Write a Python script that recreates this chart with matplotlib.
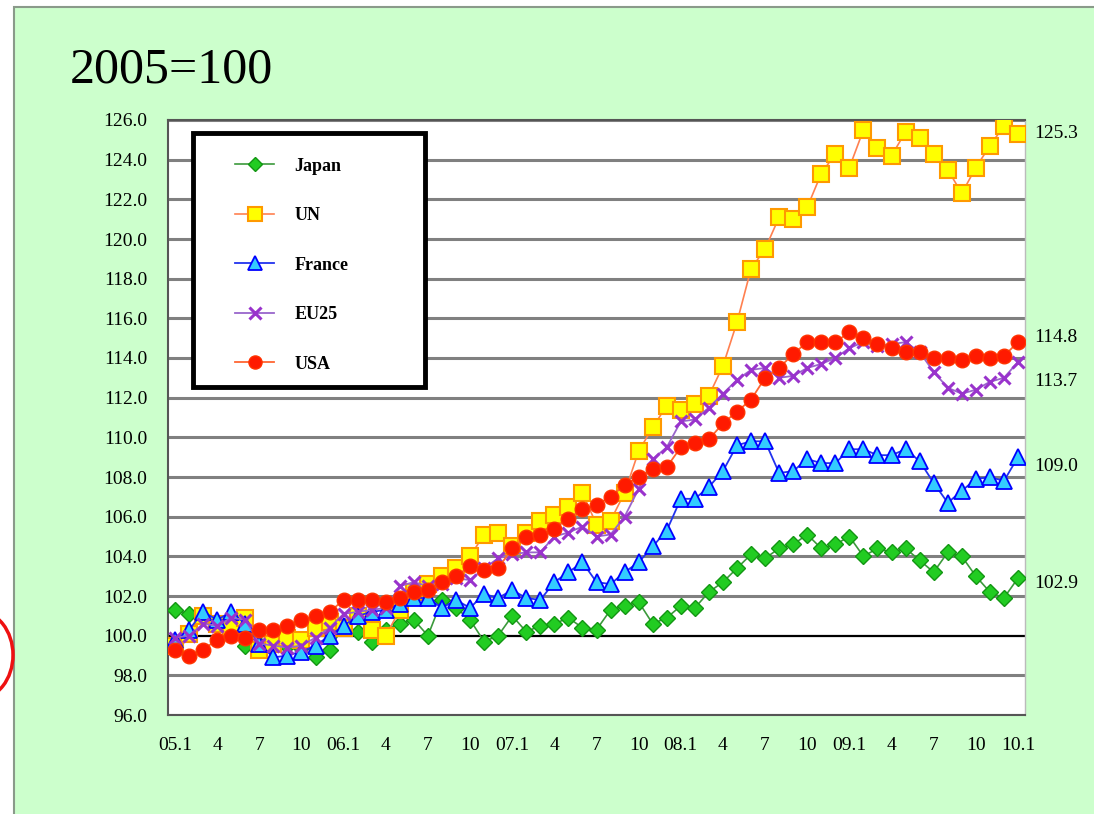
import numpy as np
import matplotlib
matplotlib.use("Agg")
import matplotlib.pyplot as plt
from matplotlib.patches import Rectangle, Ellipse

# =========================
# data (2005=100, monthly 2005.1 - 2010.1)
# =========================
months = list(range(61))
tick_pos = list(range(0, 61, 3))
tick_labels = ["05.1", "4", "7", "10", "06.1", "4", "7", "10", "07.1", "4", "7", "10",
               "08.1", "4", "7", "10", "09.1", "4", "7", "10", "10.1"]

japan = [101.3, 101.1, 100.9, 100.6, 100.8, 99.5, 99.6, 99.6, 99.5, 99.4,
         98.9, 99.3, 100.5, 100.2, 99.7, 100.3, 100.6, 100.8, 100.0, 101.8,
         101.4, 100.8, 99.7, 100.0, 101.0, 100.2, 100.5, 100.6, 100.9, 100.4,
         100.3, 101.3, 101.5, 101.7, 100.6, 100.9, 101.5, 101.4, 102.2, 102.7,
         103.4, 104.1, 103.9, 104.4, 104.6, 105.1, 104.4, 104.6, 105.0, 104.0,
         104.4, 104.2, 104.4, 103.8, 103.2, 104.2, 104.0, 103.0, 102.2, 101.9,
         102.9]
un = [99.5, 100.1, 101.0, 100.6, 100.4, 100.9, 99.3, 99.6, 99.9, 99.8,
      100.4, 100.7, 100.4, 101.0, 100.3, 100.0, 101.3, 102.2, 102.6, 103.0,
      103.4, 104.0, 105.1, 105.2, 104.5, 105.2, 105.8, 106.1, 106.5, 107.2,
      105.6, 105.8, 107.2, 109.3, 110.5, 111.6, 111.4, 111.7, 112.1, 113.6,
      115.8, 118.5, 119.5, 121.1, 121.0, 121.6, 123.3, 124.3, 123.6, 125.5,
      124.6, 124.2, 125.4, 125.1, 124.3, 123.5, 122.3, 123.6, 124.7, 125.7,
      125.3]
france = [99.8, 100.3, 101.2, 100.8, 101.2, 100.6, 99.6, 98.9, 99.0, 99.2,
          99.5, 100.0, 100.5, 101.0, 101.2, 101.3, 101.6, 101.9, 101.9, 101.4,
          101.8, 101.4, 102.1, 101.9, 102.3, 101.9, 101.8, 102.7, 103.2, 103.7,
          102.7, 102.6, 103.2, 103.7, 104.5, 105.3, 106.9, 106.9, 107.5, 108.3,
          109.6, 109.8, 109.8, 108.2, 108.3, 108.9, 108.7, 108.7, 109.4, 109.4,
          109.1, 109.1, 109.4, 108.8, 107.7, 106.7, 107.3, 107.9, 108.0, 107.8,
          109.0]
eu25 = [99.9, 100.0, 100.6, 100.5, 100.9, 100.8, 99.6, 99.5, 99.4, 99.5,
        99.9, 100.4, 101.1, 101.2, 101.3, 101.4, 102.5, 102.7, 102.5, 102.6,
        102.9, 102.8, 103.4, 103.9, 104.1, 104.2, 104.2, 105.0, 105.2, 105.5,
        105.0, 105.1, 106.0, 107.4, 108.9, 109.5, 110.8, 110.9, 111.5, 112.2,
        112.9, 113.4, 113.5, 113.0, 113.1, 113.5, 113.7, 114.0, 114.5, 114.8,
        114.6, 114.7, 114.8, 114.3, 113.3, 112.5, 112.2, 112.4, 112.8, 113.0,
        113.8]
usa = [99.3, 99.0, 99.3, 99.8, 100.0, 99.9, 100.3, 100.3, 100.5, 100.8,
       101.0, 101.2, 101.8, 101.8, 101.8, 101.7, 101.9, 102.2, 102.3, 102.7,
       103.0, 103.5, 103.3, 103.4, 104.4, 105.0, 105.1, 105.4, 105.9, 106.4,
       106.6, 107.0, 107.6, 108.0, 108.4, 108.5, 109.5, 109.7, 109.9, 110.7,
       111.3, 111.9, 113.0, 113.5, 114.2, 114.8, 114.8, 114.8, 115.3, 115.0,
       114.7, 114.5, 114.3, 114.3, 114.0, 114.0, 113.9, 114.1, 114.0, 114.1,
       114.8]

end_labels = ["125.3", "114.8", "113.7", "109.0", "102.9"]

plt.rcParams["font.family"] = ["Liberation Serif", "DejaVu Serif"]

# =========================
# figure
# =========================
fig = plt.figure(figsize=(10.94, 8.14), dpi=100, facecolor="white")
fig.patches.append(Rectangle((14 / 1094, -0.01), 1.0, (814 - 7) / 814 + 0.01,
                             transform=fig.transFigure, facecolor="#CCFFCC",
                             edgecolor="#8a9a8a", linewidth=1.5, zorder=-5))
# red circle fragment on the left edge
fig.patches.append(Ellipse((-22 / 1094, 1 - 655 / 814), 70 / 1094, 88 / 814,
                           transform=fig.transFigure, facecolor="none",
                           edgecolor="#ee1111", linewidth=2.5, zorder=-4))

ax = fig.add_axes([168 / 1094, 1 - 715 / 814, (1025 - 168) / 1094, (715 - 120) / 814])
ax.set_facecolor("white")

for v in np.arange(96, 126.1, 2):
    ax.axhline(v, color="black" if v == 100 else "#808080",
               linewidth=2.2 if v != 100 else 1.6, zorder=1)

ax.plot(months, japan, color="#3c9a3c", linewidth=1.2, marker="D", markersize=8,
        markerfacecolor="#22cc22", markeredgecolor="#139613", label="Japan", zorder=3)
ax.plot(months, un, color="#ff8050", linewidth=1.2, marker="s", markersize=11,
        markerfacecolor="#ffff00", markeredgecolor="#ff9900", markeredgewidth=1.5,
        label="UN", zorder=4)
ax.plot(months, france, color="#2233ee", linewidth=1.3, marker="^", markersize=11,
        markerfacecolor="#33ccff", markeredgecolor="#0000ff", markeredgewidth=1.3,
        label="France", zorder=5)
ax.plot(months, eu25, color="#9966cc", linewidth=1.3, marker="x", markersize=9,
        markeredgecolor="#9933cc", markeredgewidth=2.2, label="EU25", zorder=6)
ax.plot(months, usa, color="#ff6633", linewidth=1.3, marker="o", markersize=10.5,
        markerfacecolor="#ff1a00", markeredgecolor="#ff3300", label="USA", zorder=7)

# labels at the right end
ends = [un[-1], usa[-1], eu25[-1], france[-1], japan[-1]]
offs = [0, 3, -14, -7, -4]
for val, txt, dy in zip(ends, end_labels, offs):
    ax.annotate(txt, xy=(60, val), xytext=(12, dy), textcoords="offset points",
                ha="left", va="center", fontsize=14, annotation_clip=False)

ax.set_xlim(-0.5, 60.5)
ax.set_ylim(96, 126)
ax.set_yticks(np.arange(96, 126.1, 2))
ax.set_yticklabels([f"{v:.1f}" for v in np.arange(96, 126.1, 2)])
ax.set_xticks(tick_pos)
ax.set_xticklabels(tick_labels)
ax.tick_params(axis="both", length=0, labelsize=14)
ax.tick_params(axis="y", pad=15)
ax.tick_params(axis="x", pad=16)
for side in ["left", "bottom", "right", "top"]:
    ax.spines[side].set_color("#555555")
    ax.spines[side].set_linewidth(1.5)
ax.spines["right"].set_color("#bbbbbb")
ax.spines["right"].set_linewidth(1.0)

# legend box
ax.add_patch(Rectangle(((193 - 168) / 857, (715 - 387) / 595), 232 / 857, 254 / 595,
                       transform=ax.transAxes, facecolor="white", edgecolor="black",
                       linewidth=3.5, zorder=8))
leg = ax.legend(loc="upper left", bbox_to_anchor=((222 - 168) / 857, (715 - 145) / 595),
                frameon=False, prop={"weight": "bold", "size": 13},
                labelspacing=1.8, handlelength=2.2, handletextpad=1.1,
                borderpad=0.2, markerscale=0.9)
leg.set_zorder(9)

fig.text(70 / 1094, 1 - 70 / 814, "2005=100", fontsize=36, ha="left", va="center")

fig.savefig("out.png", dpi=100, facecolor=fig.get_facecolor())
